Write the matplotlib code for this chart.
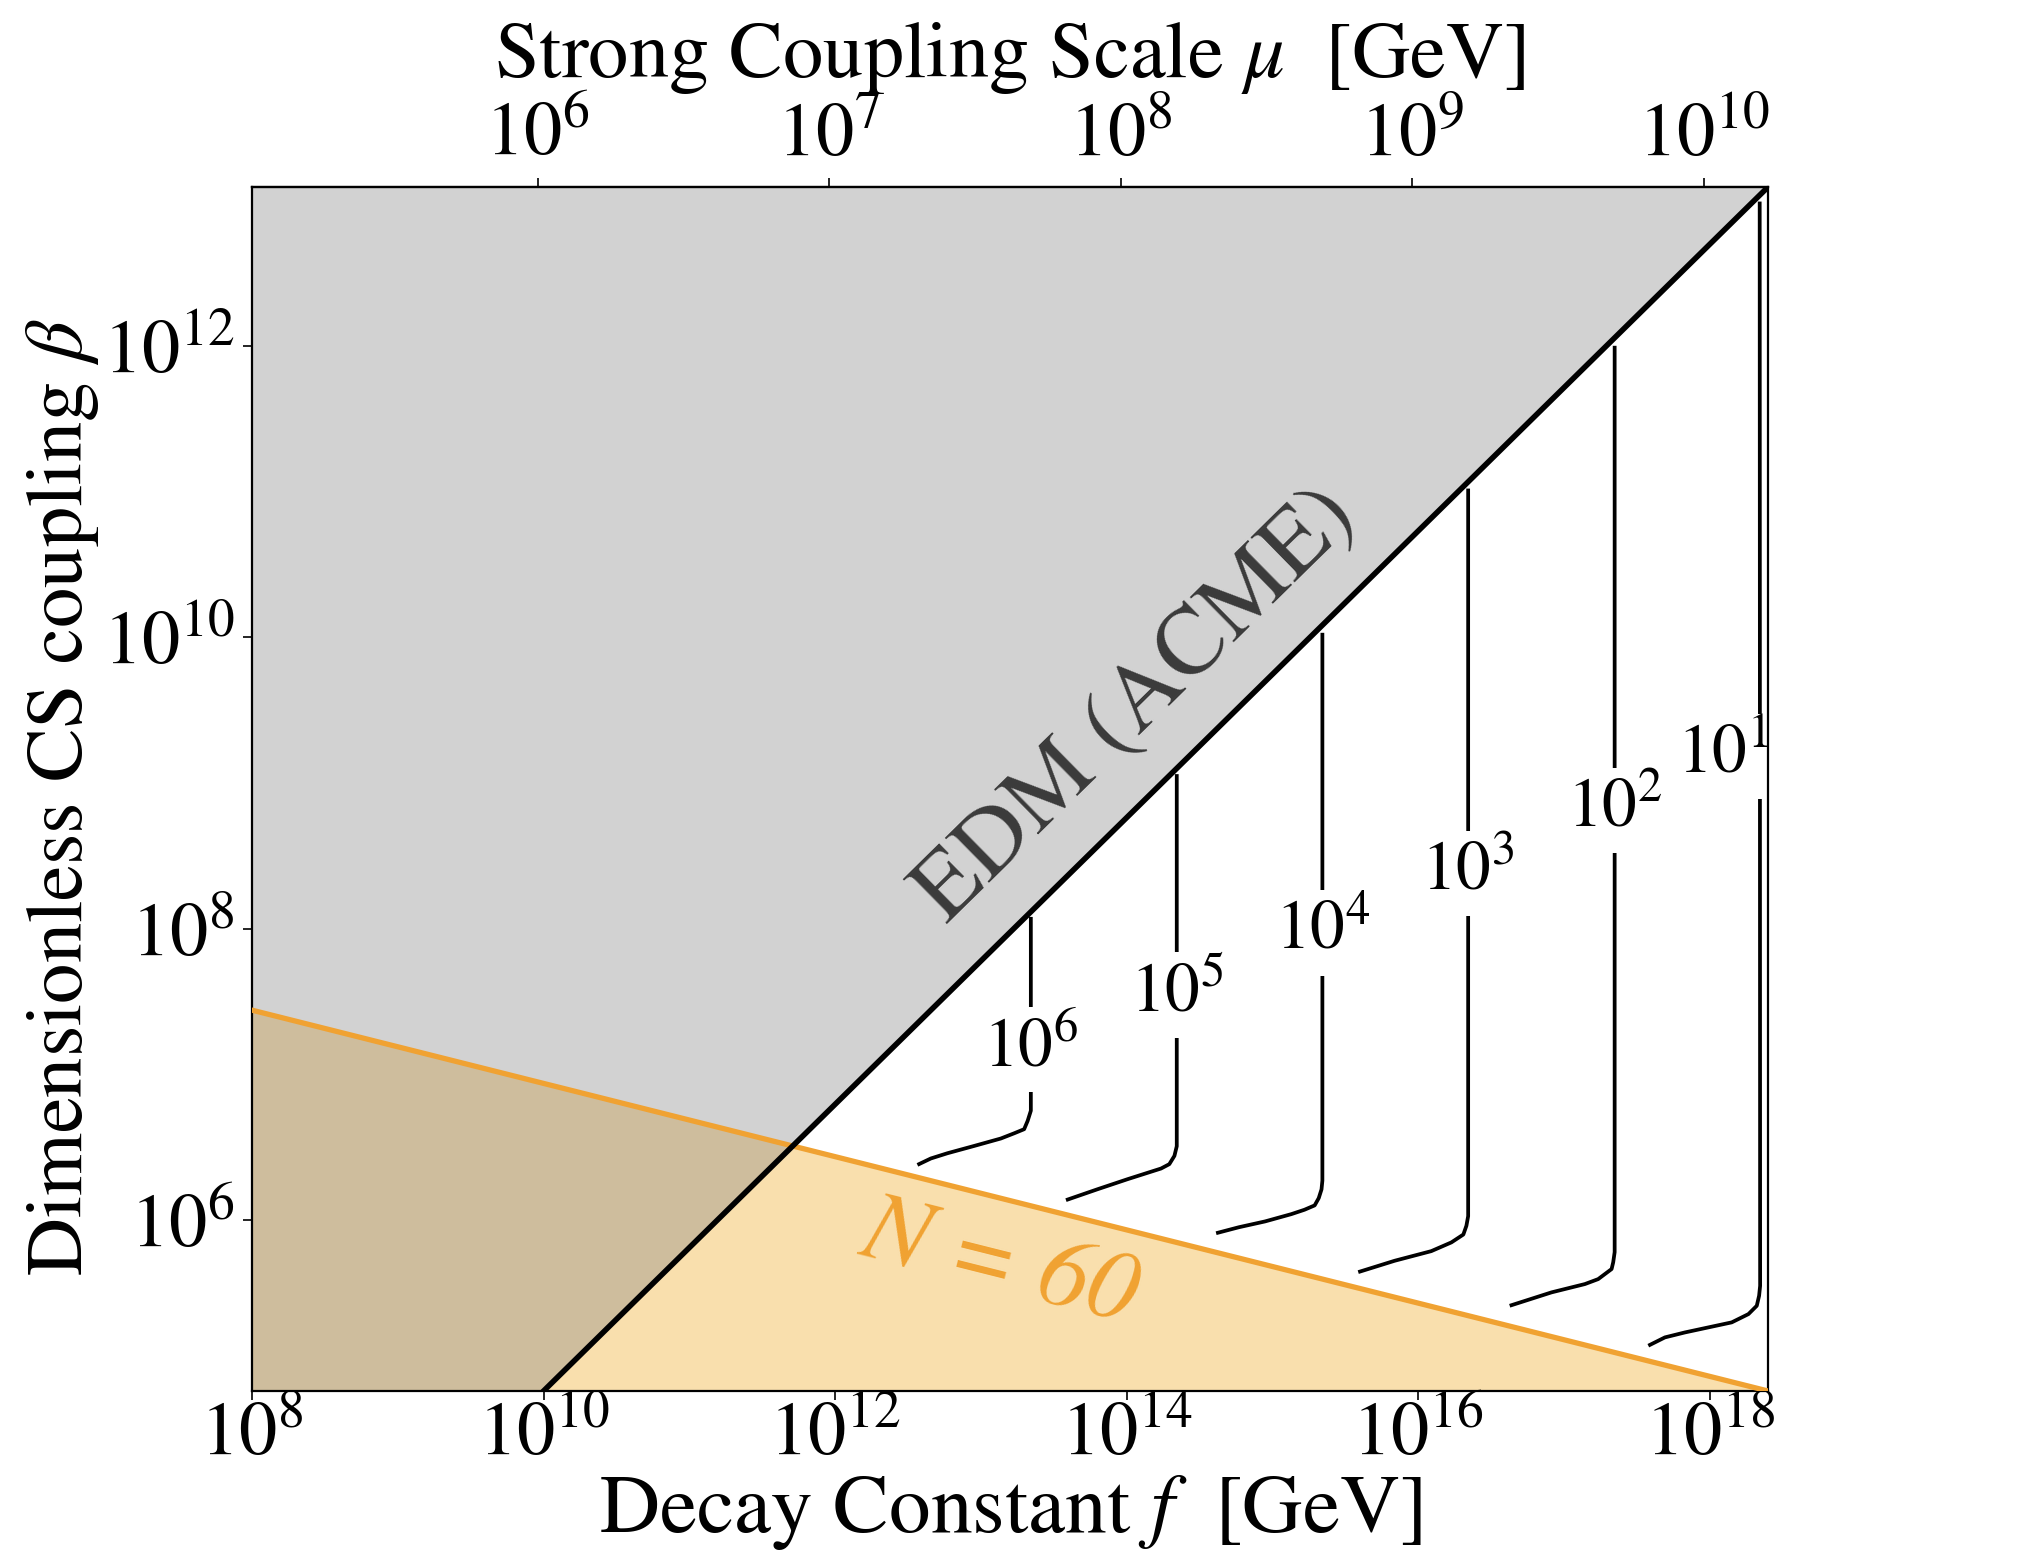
import numpy as np
import matplotlib
matplotlib.use('Agg')
import matplotlib.pyplot as plt
from matplotlib.ticker import FixedLocator, NullLocator, LogFormatterSciNotation

plt.rcParams['font.family'] = ['STIXGeneral', 'DejaVu Serif']
plt.rcParams['mathtext.fontset'] = 'stix'

# ---------------- data (log10 values) ----------------
f_lim_exp = [8.0, 18.40]          # decay constant f range [GeV]
b_lim_exp = [4.826, 13.09]        # beta range

x_ticks_exp = [8, 10, 12, 14, 16, 18]
y_ticks_exp = [6, 8, 10, 12]
mu_ticks_exp = [6, 7, 8, 9, 10]
MU2_OVER_F_EXP = 2.04             # mu^2 = f * 10^2.04 GeV

# EDM (ACME) bound
edm_f_exp = [10.0, 18.40]
edm_b_exp = [4.826, 13.09]
# N = 60 line
n60_f_exp = [8.0, 18.40]
n60_b_exp = [7.44, 4.826]

# contours
contour_labels = ['$10^{6}$', '$10^{5}$', '$10^{4}$', '$10^{3}$', '$10^{2}$', '$10^{1}$']
c6_f = [13.343, 13.343, 13.339, 13.321, 13.297, 13.229, 13.137, 12.954, 12.771, 12.657, 12.565]
c6_b = [8.08, 6.75, 6.737, 6.680, 6.623, 6.595, 6.559, 6.508, 6.458, 6.422, 6.378]
c5_f = [14.344, 14.344, 14.328, 14.293, 14.236, 14.007, 13.801, 13.584]
c5_b = [9.06, 6.506, 6.44, 6.383, 6.353, 6.280, 6.211, 6.136]
c4_f = [15.343, 15.343, 15.337, 15.318, 15.29, 15.22, 15.13, 14.95, 14.77, 14.614]
c4_b = [10.03, 6.27, 6.21, 6.15, 6.10, 6.07, 6.04, 5.99, 5.95, 5.909]
c3_f = [16.343, 16.343, 16.331, 16.31, 16.228, 16.09, 15.839, 15.589]
c3_b = [11.02, 6.026, 5.960, 5.90, 5.846, 5.786, 5.720, 5.642]
c2_f = [17.348, 17.348, 17.338, 17.327, 17.235, 17.144, 16.915, 16.628]
c2_b = [12.00, 5.779, 5.709, 5.663, 5.594, 5.560, 5.503, 5.411]
c1_f = [18.343, 18.346, 18.339, 18.323, 18.266, 18.151, 17.830, 17.693, 17.579]
c1_b = [12.99, 5.548, 5.480, 5.411, 5.354, 5.297, 5.228, 5.194, 5.137]
contour_f = [c6_f, c5_f, c4_f, c3_f, c2_f, c1_f]
contour_b = [c6_b, c5_b, c4_b, c3_b, c2_b, c1_b]
label_f_exp = [13.343, 14.344, 15.343, 16.343, 17.348, 18.089]
label_b_exp = [7.17, 7.545, 7.97, 8.38, 8.81, 9.18]

# ---------------- figure ----------------
fig = plt.figure(figsize=(20.4, 15.62), dpi=100)
ax = fig.add_axes([252/2040, 1-1391/1562, 1516/2040, 1204/1562])
ax.set_xscale('log')
ax.set_yscale('log')

p = lambda a: 10.0**np.asarray(a, dtype=float)
xmin, xmax = p(f_lim_exp)
ymin, ymax = p(b_lim_exp)

# orange (N=60) region
ax.fill_between(p(n60_f_exp), ymin, p(n60_b_exp), color='#F9DFAD', lw=0, zorder=1)
# grey EDM excluded region
gx = np.concatenate([[xmin], p(edm_f_exp)])
gy = np.concatenate([[ymin], p(edm_b_exp)])
ax.fill_between(gx, gy, ymax, color='#808080', alpha=0.35, lw=0, zorder=1.1)

# contours
for cf, cb in zip(contour_f, contour_b):
    ax.plot(p(cf), p(cb), color='black', lw=2.7, zorder=2, solid_capstyle='butt')
for lab, lf, lb in zip(contour_labels, label_f_exp, label_b_exp):
    ax.text(10**lf, 10**lb, lab, ha='center', va='center', fontsize=50, zorder=2.3,
            bbox=dict(fc='white', ec='none', pad=8))

ax.plot(p(n60_f_exp), p(n60_b_exp), color='#F0A232', lw=3.8, zorder=3)
ax.plot(p(edm_f_exp), p(edm_b_exp), color='black', lw=4.0, zorder=3.1)

ax.text(10**14.07, 10**9.53, 'EDM (ACME)', color='#3A3A3A', fontsize=69,
        rotation=44.5, rotation_mode='anchor', ha='center', va='center', zorder=4)
ax.text(10**13.134, 10**5.695, 'N = 60', color='#F0A232', fontsize=71, style='italic',
        rotation=-14.1, rotation_mode='anchor', ha='center', va='center', zorder=4)

ax.set_xlim(xmin, xmax)
ax.set_ylim(ymin, ymax)

ax.xaxis.set_major_locator(FixedLocator(p(x_ticks_exp)))
ax.yaxis.set_major_locator(FixedLocator(p(y_ticks_exp)))
ax.xaxis.set_minor_locator(NullLocator())
ax.yaxis.set_minor_locator(NullLocator())
ax.xaxis.set_major_formatter(LogFormatterSciNotation())
ax.yaxis.set_major_formatter(LogFormatterSciNotation())
ax.tick_params(axis='both', which='major', direction='out', length=6.5, width=1.2,
               labelsize=55, color='black')
ax.tick_params(axis='x', pad=1)
ax.tick_params(axis='y', pad=6)
for s in ax.spines.values():
    s.set_linewidth(1.6)
    s.set_zorder(2.5)

K = 10**MU2_OVER_F_EXP
def f2mu(f):
    f = np.asarray(f, dtype=float)
    return np.sqrt(np.clip(f, 1e-300, None) * K)
def mu2f(mu):
    mu = np.asarray(mu, dtype=float)
    return mu**2 / K

sec = ax.secondary_xaxis('top', functions=(f2mu, mu2f))
sec.xaxis.set_major_locator(FixedLocator(p(mu_ticks_exp)))
sec.xaxis.set_minor_locator(NullLocator())
sec.xaxis.set_major_formatter(LogFormatterSciNotation())
sec.tick_params(axis='x', direction='out', length=6.5, width=1.2, labelsize=55, pad=4)
sec.spines['top'].set_linewidth(1.6)

ax.set_xlabel(r'Decay Constant $f\ $ [GeV]', fontsize=60, va='center')
ax.xaxis.set_label_coords(0.5, -0.101)
ax.set_ylabel(r'Dimensionless CS coupling $\beta$', fontsize=58, va='center')
ax.yaxis.set_label_coords(-0.1253, 0.493)
sec.set_xlabel(r'Strong Coupling Scale $\mu\ $ [GeV]', fontsize=58, va='center')
sec.xaxis.set_label_coords(0.5, 1.107, transform=ax.transAxes)

fig.savefig('out.png', dpi=100)
